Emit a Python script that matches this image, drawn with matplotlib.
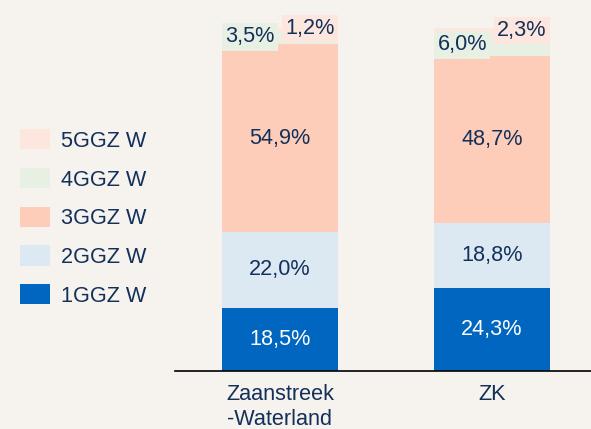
import numpy as np
import matplotlib
matplotlib.use("Agg")
import matplotlib.pyplot as plt

plt.rcParams["font.family"] = ["Liberation Sans", "DejaVu Sans"]

regions = ["Zaanstreek\n-Waterland", "ZK"]
levels = ["1GGZ W", "2GGZ W", "3GGZ W", "4GGZ W", "5GGZ W"]
ggz1 = [18.5, 24.3]
ggz2 = [22.0, 18.8]
ggz3 = [54.9, 48.7]
ggz4 = [3.5, 6.0]
ggz5 = [1.2, 2.3]

colors = ["#0066bf", "#dce9f3", "#fdcdb9", "#e8f0e4", "#fde6de"]
text_dark = "#12305a"
bg = "#f6f2ee"
fontsize = 15.6

series = [ggz1, ggz2, ggz3, ggz4, ggz5]

fig = plt.figure(figsize=(5.91, 4.29), dpi=100, facecolor=bg)
ax = fig.add_axes([175 / 591, 58 / 429, 416 / 591, 371 / 429])
ax.set_facecolor(bg)

x = np.arange(len(regions))
bottom = np.zeros(len(regions))
handles = []
for i, (vals, col) in enumerate(zip(series, colors)):
    vals = np.array(vals)
    bars = ax.bar(x, vals, width=0.55, bottom=bottom, color=col,
                  edgecolor="none", label=levels[i])
    handles.append(bars)
    for j, v in enumerate(vals):
        yc = bottom[j] + v / 2
        label = f"{v:.1f}%".replace(".", ",")
        if i < 3:
            ax.text(x[j], yc, label, ha="center", va="center",
                    fontsize=fontsize,
                    color="white" if i == 0 else text_dark)
        else:
            dx = -0.14 if i == 3 else 0.14
            dy = 0.3 if i == 3 else 0.4
            ax.text(x[j] + dx, yc + dy, label, ha="center", va="center",
                    fontsize=fontsize, color=text_dark,
                    bbox=dict(boxstyle="square,pad=0.15", facecolor=col,
                              edgecolor="none"))
    bottom += vals

ax.set_xlim(-0.495, 1.467)
ax.set_ylim(0, 108.2)
ax.set_xticks(x)
ax.set_xticklabels(regions, fontsize=fontsize, color=text_dark,
                   linespacing=1.3)
ax.tick_params(axis="x", length=0, pad=9)
ax.set_yticks([])
for side in ("left", "right", "top"):
    ax.spines[side].set_visible(False)
ax.spines["bottom"].set_color("black")
ax.spines["bottom"].set_linewidth(1.2)

leg = fig.legend(handles[::-1], levels[::-1], loc="center left",
                 bbox_to_anchor=(20 / 591, 1 - 218 / 429), frameon=False,
                 fontsize=fontsize, handlelength=1.4, handleheight=1.05,
                 handletextpad=0.5, labelspacing=0.75, borderpad=0,
                 borderaxespad=0)
for t in leg.get_texts():
    t.set_color(text_dark)

fig.savefig("out.png", dpi=100, facecolor=bg)
